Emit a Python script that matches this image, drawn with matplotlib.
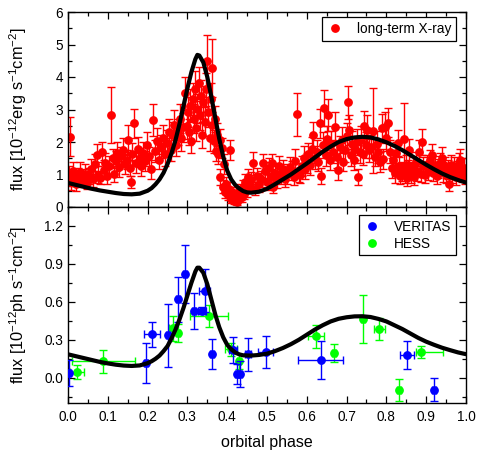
import matplotlib
matplotlib.use("Agg")
import matplotlib.pyplot as plt
from matplotlib.lines import Line2D
from matplotlib.ticker import MultipleLocator

plt.rcParams['font.family'] = ['Liberation Sans', 'DejaVu Sans']
plt.rcParams['mathtext.fontset'] = 'custom'
plt.rcParams['mathtext.rm'] = 'Liberation Sans'
plt.rcParams['mathtext.it'] = 'Liberation Sans:italic'
plt.rcParams['mathtext.default'] = 'regular'

# ---------------- data ----------------
xray = [
    (0.002,0.95,0.3),(0.005,2.16,0.6),(0.008,0.78,0.25),(0.012,1.10,0.3),(0.016,0.86,0.2),(0.020,0.70,0.2),
    (0.025,0.95,0.25),(0.030,1.07,0.3),(0.034,0.82,0.2),(0.038,0.92,0.25),(0.043,1.02,0.3),(0.048,0.74,0.2),
    (0.053,0.96,0.25),(0.058,1.18,0.3),(0.063,0.86,0.25),(0.068,1.32,0.3),(0.072,1.60,0.35),(0.076,1.00,0.25),
    (0.080,0.90,0.2),(0.085,1.70,0.3),(0.090,1.15,0.3),(0.094,1.36,0.3),(0.098,0.96,0.25),
    (0.103,1.26,0.3),(0.108,2.83,0.85),(0.112,1.50,0.3),(0.116,1.02,0.25),(0.120,1.42,0.3),(0.124,1.66,0.35),
    (0.128,1.22,0.3),(0.133,1.56,0.3),(0.138,1.76,0.35),(0.142,1.32,0.3),(0.147,1.46,0.3),(0.152,2.06,0.45),
    (0.155,1.20,0.25),(0.158,0.77,0.18),(0.162,1.62,0.35),(0.166,2.57,0.45),(0.170,1.36,0.3),(0.175,1.80,0.35),
    (0.180,1.52,0.3),(0.184,1.26,0.3),(0.189,1.66,0.35),(0.194,1.42,0.3),(0.198,1.92,0.4),(0.203,1.56,0.3),
    (0.208,1.16,0.3),(0.214,2.67,0.5),(0.218,1.72,0.35),(0.223,2.02,0.4),(0.228,1.46,0.3),(0.233,1.86,0.35),
    (0.238,2.12,0.4),(0.243,1.62,0.35),(0.248,1.96,0.4),
    (0.253,2.32,0.4),(0.258,1.76,0.35),(0.263,2.22,0.4),(0.267,2.52,0.45),(0.272,1.92,0.35),(0.277,2.32,0.4),
    (0.281,2.72,0.45),(0.285,2.12,0.4),(0.290,2.45,0.45),(0.294,3.50,0.5),(0.298,2.50,0.4),(0.301,2.92,0.45),
    (0.304,2.30,0.4),(0.307,3.12,0.5),(0.310,2.02,0.35),(0.313,3.32,0.5),(0.316,2.72,0.45),(0.319,3.62,0.55),
    (0.322,2.42,0.4),(0.325,3.02,0.45),(0.328,3.82,0.5),(0.331,2.82,0.45),(0.334,3.42,0.5),(0.337,2.22,0.4),
    (0.340,3.22,0.5),(0.343,2.62,0.45),(0.346,3.62,0.5),(0.350,4.49,0.8),(0.353,2.92,0.45),(0.356,2.12,0.4),
    (0.359,3.32,0.5),(0.361,2.52,0.4),(0.363,4.27,0.9),(0.366,2.02,0.35),(0.369,2.72,0.4),(0.372,1.72,0.3),
    (0.375,2.22,0.35),(0.378,1.62,0.3),
    (0.381,2.06,0.35),(0.383,0.92,0.25),(0.386,1.82,0.3),(0.389,0.62,0.2),(0.392,1.32,0.3),(0.395,0.47,0.2),
    (0.398,0.72,0.2),(0.401,0.36,0.15),(0.404,0.56,0.2),(0.407,1.75,0.3),(0.409,0.26,0.15),(0.412,0.46,0.15),
    (0.415,0.31,0.15),(0.418,0.20,0.12),(0.421,0.41,0.2),(0.424,0.16,0.1),(0.427,0.36,0.15),(0.430,0.26,0.1),
    (0.433,0.52,0.2),(0.436,0.31,0.15),(0.439,0.62,0.2),(0.442,0.41,0.15),(0.445,0.77,0.25),(0.449,0.52,0.2),
    (0.453,0.92,0.25),(0.457,0.66,0.2),
    (0.461,0.82,0.25),(0.466,1.34,0.35),(0.470,0.56,0.2),(0.475,0.96,0.25),(0.480,0.72,0.25),(0.485,0.86,0.25),
    (0.490,1.34,0.3),(0.495,1.10,0.3),(0.500,0.76,0.25),(0.505,1.20,0.3),(0.510,0.92,0.25),(0.512,1.34,0.3),
    (0.516,0.62,0.2),(0.521,1.06,0.3),(0.526,0.82,0.25),(0.531,1.26,0.3),(0.536,0.96,0.25),(0.541,1.16,0.3),
    (0.546,0.86,0.25),(0.551,1.02,0.3),(0.558,1.24,0.3),(0.562,1.12,0.3),(0.567,0.92,0.25),(0.571,1.42,0.35),
    (0.576,2.85,0.65),(0.580,1.06,0.3),(0.583,0.98,0.25),(0.587,1.26,0.3),(0.592,1.52,0.35),(0.596,1.16,0.3),
    (0.600,1.36,0.3),(0.604,1.62,0.35),(0.608,1.30,0.3),(0.612,1.80,0.35),(0.616,2.22,0.4),(0.620,1.52,0.35),
    (0.625,1.70,0.35),(0.629,1.40,0.3),(0.633,2.57,0.45),(0.636,0.95,0.25),(0.640,1.90,0.4),(0.644,3.04,0.55),
    (0.648,1.60,0.35),(0.652,2.10,0.4),(0.654,2.83,0.5),(0.658,1.45,0.3),(0.662,1.95,0.4),(0.667,1.70,0.35),
    (0.671,2.47,0.45),(0.675,1.55,0.35),(0.679,1.14,0.3),(0.683,1.85,0.35),(0.688,2.05,0.4),(0.692,1.40,0.3),
    (0.696,1.75,0.35),(0.700,2.20,0.4),(0.703,3.22,0.5),(0.706,2.37,0.45),(0.710,1.60,0.35),(0.714,1.95,0.4),
    (0.718,1.45,0.3),(0.722,1.80,0.35),(0.726,2.00,0.4),(0.729,0.93,0.25),(0.733,1.70,0.35),(0.737,2.10,0.4),
    (0.741,1.63,0.35),(0.744,2.49,0.45),(0.748,1.90,0.4),(0.752,2.37,0.45),(0.757,1.75,0.35),
    (0.762,1.86,0.35),(0.767,2.35,1.3),(0.771,1.55,0.3),(0.776,1.95,0.4),(0.780,1.70,0.35),(0.784,1.38,0.3),
    (0.788,2.42,0.45),(0.792,1.48,0.3),(0.796,2.47,0.45),(0.800,2.11,0.4),(0.805,2.60,0.45),(0.809,1.70,0.35),
    (0.813,1.20,0.3),(0.817,1.45,0.3),(0.821,1.05,0.3),(0.825,1.65,0.35),(0.829,1.96,0.4),(0.832,1.25,0.3),
    (0.835,0.95,0.25),(0.838,1.10,0.3),(0.843,2.10,1.1),(0.846,1.00,0.25),(0.849,1.30,0.3),(0.852,0.90,0.25),
    (0.855,1.15,0.3),(0.858,1.75,0.35),
    (0.862,1.05,0.3),(0.866,1.25,0.3),(0.870,0.92,0.25),(0.874,1.40,0.3),(0.878,1.10,0.3),(0.882,1.70,0.35),
    (0.886,1.02,0.25),(0.889,1.99,0.4),(0.893,1.25,0.3),(0.897,0.98,0.25),(0.901,1.30,0.3),(0.905,1.12,0.3),
    (0.909,1.45,0.3),(0.914,1.60,0.35),(0.918,1.05,0.25),(0.922,1.28,0.3),(0.926,0.95,0.25),(0.930,1.18,0.3),
    (0.935,1.35,0.3),(0.939,1.50,0.35),(0.943,1.08,0.3),(0.947,1.25,0.3),(0.951,0.98,0.25),(0.955,1.15,0.3),
    (0.958,0.70,0.2),(0.962,1.30,0.3),(0.966,1.05,0.3),(0.970,1.24,0.3),(0.974,0.92,0.25),(0.978,1.12,0.3),
    (0.982,1.35,0.3),(0.986,1.45,0.35),(0.990,1.02,0.25),(0.994,1.20,0.3),(0.997,0.95,0.25),
]
xray_phase = [p[0] for p in xray]
xray_flux = [p[1] for p in xray]
xray_err = [p[2] for p in xray]

# model curve, X-ray panel
model_x_phase = [0.00,0.02,0.04,0.06,0.08,0.10,0.12,0.14,0.16,0.18,0.20,0.21,0.22,0.23,0.24,0.25,0.26,0.27,
                 0.28,0.29,0.30,0.31,0.32,0.325,0.33,0.34,0.35,0.36,0.37,0.38,0.39,0.40,0.41,0.42,0.43,0.44,
                 0.45,0.46,0.48,0.50,0.52,0.54,0.56,0.58,0.60,0.62,0.64,0.66,0.68,0.70,0.72,0.74,0.76,0.78,
                 0.80,0.82,0.84,0.86,0.88,0.90,0.92,0.94,0.96,0.98,1.00]
model_x_flux = [0.74,0.68,0.62,0.56,0.51,0.47,0.43,0.40,0.39,0.41,0.50,0.58,0.70,0.85,1.05,1.32,1.65,2.05,
                2.55,3.10,3.65,4.15,4.55,4.68,4.66,4.45,4.00,3.40,2.75,2.10,1.55,1.12,0.85,0.68,0.57,0.49,
                0.45,0.44,0.47,0.56,0.70,0.85,1.00,1.17,1.34,1.52,1.70,1.86,2.00,2.09,2.14,2.16,2.14,2.08,
                1.99,1.88,1.75,1.60,1.45,1.30,1.16,1.03,0.92,0.83,0.75]

# model curve, TeV panel
model_g_phase = [0.00,0.02,0.04,0.06,0.08,0.10,0.12,0.14,0.16,0.18,0.20,0.21,0.22,0.23,0.24,0.25,0.26,0.27,
                 0.28,0.29,0.30,0.31,0.32,0.325,0.33,0.34,0.35,0.36,0.37,0.38,0.39,0.40,0.41,0.42,0.43,0.44,
                 0.46,0.48,0.50,0.52,0.54,0.56,0.58,0.60,0.62,0.64,0.66,0.68,0.70,0.72,0.74,0.76,0.78,0.80,
                 0.82,0.84,0.86,0.88,0.90,0.92,0.94,0.96,0.98,1.00]
model_g_flux = [0.185,0.170,0.155,0.140,0.125,0.113,0.103,0.096,0.093,0.097,0.115,0.130,0.150,0.175,0.210,
                0.250,0.310,0.380,0.460,0.550,0.650,0.750,0.840,0.870,0.870,0.830,0.740,0.620,0.500,0.400,
                0.320,0.260,0.225,0.200,0.185,0.177,0.175,0.180,0.190,0.210,0.235,0.265,0.300,0.340,0.380,
                0.415,0.445,0.466,0.478,0.485,0.486,0.480,0.465,0.445,0.415,0.385,0.350,0.315,0.285,0.260,
                0.237,0.218,0.200,0.186]

# VERITAS
ver_phase = [0.003,0.195,0.211,0.252,0.276,0.294,0.317,0.337,0.343,0.362,0.415,0.425,0.432,0.453,0.497,0.635,0.851,0.920]
ver_flux  = [0.037,0.116,0.344,0.336,0.620,0.820,0.526,0.530,0.687,0.190,0.220,0.030,0.030,0.185,0.203,0.137,0.177,-0.095]
ver_yerr  = [0.100,0.160,0.100,0.250,0.180,0.230,0.140,0.030,0.170,0.120,0.100,0.080,0.100,0.130,0.130,0.150,0.110,0.090]
ver_xerr  = [0.005,0.005,0.019,0.005,0.005,0.005,0.005,0.010,0.015,0.005,0.010,0.005,0.005,0.008,0.019,0.057,0.018,0.005]

# HESS
hess_phase = [0.023,0.089,0.265,0.277,0.354,0.410,0.430,0.623,0.669,0.740,0.782,0.832,0.887]
hess_flux  = [0.045,0.130,0.390,0.354,0.487,0.225,0.130,0.328,0.195,0.465,0.389,-0.095,0.203]
hess_yerr  = [0.055,0.090,0.100,0.070,0.087,0.050,0.060,0.090,0.070,0.190,0.087,0.088,0.045]
hess_xlo   = [0.017,0.080,0.010,0.005,0.048,0.015,0.005,0.019,0.005,0.005,0.014,0.005,0.013]
hess_xhi   = [0.017,0.080,0.010,0.005,0.048,0.015,0.005,0.019,0.005,0.005,0.014,0.005,0.055]

# ---------------- figure ----------------
fig = plt.figure(figsize=(4.81, 4.54), dpi=100)
ax1 = fig.add_axes([68/481, 1-207/454, 398/481, 195/454])
ax2 = fig.add_axes([68/481, 1-403/454, 398/481, 196/454])

RED = '#ff0000'
BLUE = '#0000ff'
GREEN = '#00ff00'

ms = 5.3
cap = 3.2
elw = 1.0

ax1.errorbar(xray_phase, xray_flux, yerr=xray_err, fmt='o', color=RED, ms=ms,
             ecolor=RED, elinewidth=elw, capsize=cap, capthick=elw, zorder=2)
ax1.plot(model_x_phase, model_x_flux, color='black', lw=3.0, zorder=5,
         solid_capstyle='round', solid_joinstyle='round')

ax2.errorbar(hess_phase, hess_flux, yerr=hess_yerr, xerr=[hess_xlo, hess_xhi], fmt='o', color=GREEN,
             ms=ms, ecolor=GREEN, elinewidth=elw, capsize=cap, capthick=elw, zorder=2)
ax2.errorbar(ver_phase, ver_flux, yerr=ver_yerr, xerr=ver_xerr, fmt='o', color=BLUE,
             ms=ms, ecolor=BLUE, elinewidth=elw, capsize=cap, capthick=elw, zorder=3)
ax2.plot(model_g_phase, model_g_flux, color='black', lw=3.0, zorder=5,
         solid_capstyle='round', solid_joinstyle='round')

ax1.set_xlim(0, 1)
ax1.set_ylim(0, 6)
ax2.set_xlim(0, 1)
ax2.set_ylim(-0.2, 1.35)

for ax in (ax1, ax2):
    ax.xaxis.set_major_locator(MultipleLocator(0.1))
    ax.xaxis.set_minor_locator(MultipleLocator(0.05))
    ax.tick_params(which='both', direction='in', top=True, right=True, width=0.9, labelsize=9.8)
    ax.tick_params(which='major', length=5)
    ax.tick_params(which='minor', length=3)
    for s in ax.spines.values():
        s.set_linewidth(1.0)

ax1.yaxis.set_major_locator(MultipleLocator(1))
ax1.yaxis.set_minor_locator(MultipleLocator(0.5))
ax1.tick_params(labelbottom=False)
ax1.set_yticks([0, 1, 2, 3, 4, 5, 6])
ax1.set_yticklabels(['0', '1', '2', '3', '4', '5', '6'])

ax2.set_yticks([0.0, 0.3, 0.6, 0.9, 1.2])
ax2.yaxis.set_minor_locator(MultipleLocator(0.15))
ax2.set_yticklabels(['0.0', '0.3', '0.6', '0.9', '1.2'])
ax2.set_xticks([0.0, 0.1, 0.2, 0.3, 0.4, 0.5, 0.6, 0.7, 0.8, 0.9, 1.0])
ax2.set_xticklabels(['0.0', '0.1', '0.2', '0.3', '0.4', '0.5', '0.6', '0.7', '0.8', '0.9', '1.0'])
ax2.tick_params(axis='x', pad=5)

ax1.set_ylabel('flux [10$^{-12}$erg s$^{-1}$cm$^{-2}$]', fontsize=11.8)
ax2.set_ylabel('flux [10$^{-12}$ph s$^{-1}$cm$^{-2}$]', fontsize=11.8)
ax2.set_xlabel('orbital phase', fontsize=11.5, labelpad=8)
ax1.yaxis.set_label_coords(-0.098, 0.5)
ax2.yaxis.set_label_coords(-0.098, 0.5)

h1 = [Line2D([], [], marker='o', ls='none', color=RED, ms=ms)]
leg1 = ax1.legend(h1, ['long-term X-ray'], loc='upper right', bbox_to_anchor=(0.975, 0.974),
                  borderaxespad=0, frameon=True, fancybox=False, edgecolor='black', framealpha=1,
                  fontsize=9.8, handlelength=1.2, handletextpad=1.0, borderpad=0.35)
leg1.get_frame().set_linewidth(0.9)

h2 = [Line2D([], [], marker='o', ls='none', color=BLUE, ms=ms),
      Line2D([], [], marker='o', ls='none', color=GREEN, ms=ms)]
leg2 = ax2.legend(h2, ['VERITAS', 'HESS'], loc='upper right', bbox_to_anchor=(0.975, 0.959),
                  borderaxespad=0, frameon=True, fancybox=False, edgecolor='black', framealpha=1,
                  fontsize=9.8, handlelength=1.2, handletextpad=1.0, borderpad=0.35, labelspacing=0.2)
leg2.get_frame().set_linewidth(0.9)

fig.savefig('out.png', dpi=100)
